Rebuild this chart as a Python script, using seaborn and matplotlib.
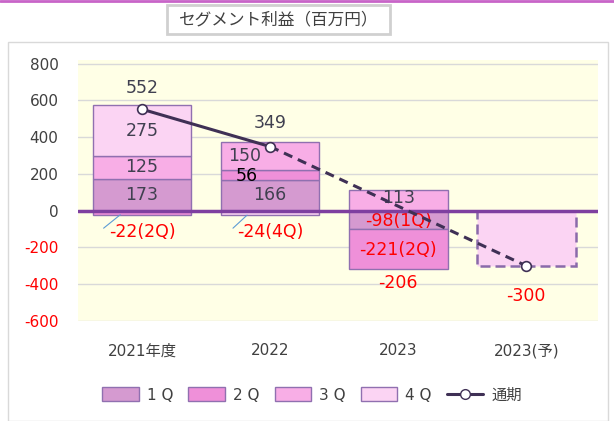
import numpy as np
import pandas as pd
import seaborn as sns
import matplotlib.pyplot as plt
from matplotlib.patches import Rectangle, Patch
from matplotlib.lines import Line2D

sns.set_style('white')
plt.rcParams['font.family'] = ['DejaVu Sans', 'Noto Sans CJK JP']
plt.rcParams['axes.unicode_minus'] = False

# data
years = ['2021年度', '2022', '2023', '2023(予)']
quarters = ['1 Q', '2 Q', '3 Q', '4 Q']
q1 = [173, 166, -98, np.nan]
q2 = [-22, 56, -221, np.nan]
q3 = [125, 150, 113, np.nan]
q4 = [275, -24, np.nan, -300]
total = [552, 349, -206, -300]
yticks = [-600, -400, -200, 0, 200, 400, 600, 800]

colors = ['#D59AD0', '#EF90D9', '#F8AEE6', '#FBD4F3']
edge = '#9070B0'
txt = '#404050'
red = '#FF0000'

fig = plt.figure(figsize=(6.14, 4.21), dpi=100)
W, H = 614, 421

# outer decorations (pixel based)
fig.add_artist(Line2D([0, 1], [1 - 1 / H, 1 - 1 / H], color='#C864C8', lw=2))
fig.add_artist(Rectangle((8 / W, 0), 600 / W, 1 - 42 / H, transform=fig.transFigure,
                         fill=False, ec='#D9D9D9', lw=1))
fig.add_artist(Rectangle((167 / W, 1 - 34 / H), 223 / W, 29 / H, transform=fig.transFigure,
                         fc='white', ec='#D0D0D0', lw=2))
fig.text(279 / W, 1 - 20 / H, 'セグメント利益（百万円）', ha='center', va='center',
         fontsize=12, color='#404040', family='Noto Sans CJK JP')

ax = fig.add_axes([78 / W, 1 - 321 / H, 520 / W, 261 / H])
ax.set_facecolor('#FFFFE6')

series = [q1, q2, q3, q4]
pos_base = np.zeros(len(years))
neg_base = np.zeros(len(years))
for vals, name, c in zip(series, quarters, colors):
    v = np.array(vals, dtype=float)
    keep = ~np.isnan(v)
    bottom = np.where(v >= 0, pos_base, neg_base)
    df = pd.DataFrame({'year': np.array(years)[keep], 'value': v[keep]})
    sns.barplot(data=df, x='year', y='value', order=years, color=c, width=0.77,
                edgecolor=edge, linewidth=1, bottom=bottom[keep], ax=ax, saturation=1)
    vv = np.nan_to_num(v)
    pos_base = pos_base + np.where(vv > 0, vv, 0)
    neg_base = neg_base + np.where(vv < 0, vv, 0)

# forecast bar dashed
fc_bar = ax.containers[-1][-1]
fc_bar.set_linestyle((0, (4, 2)))
fc_bar.set_linewidth(1.8)
fc_bar.set_edgecolor('#8A6AAA')

# annual line: solid actual, dashed toward forecast
xs = [0, 1, 3]
ts = [total[0], total[1], total[3]]
ax.plot(xs[:2], ts[:2], color='#3F3055', lw=2.2, zorder=5)
ax.plot(xs[1:], ts[1:], color='#3F3055', lw=2.2, ls=(0, (3, 2)), zorder=5)
ax.plot(xs, ts, 'o', mfc='white', mec='#3F3055', ms=7, mew=1.2, zorder=6)

ax.axhline(0, color='#7E3FA0', lw=2.5, zorder=4)

ax.set_ylim(-600, 820)
ax.set_xlim(-0.5, 3.56)
ax.set_yticks(yticks)
ax.yaxis.grid(True, color='#D9D9D9', lw=1)
ax.set_axisbelow(True)
for s in ax.spines.values():
    s.set_visible(False)
ax.tick_params(axis='both', length=0, labelsize=11, colors='#404040')
ax.tick_params(axis='y', pad=14)
ax.tick_params(axis='x', pad=16)
for lab, t in zip(ax.get_yticklabels(), yticks):
    lab.set_color(red if t < 0 else '#404040')
ax.set_xlabel('')
ax.set_ylabel('')

fs = 12.5
# 2021
ax.text(0, q1[0] / 2, '173', ha='center', va='center', fontsize=fs, color=txt)
ax.text(0, q1[0] + q3[0] / 2, '125', ha='center', va='center', fontsize=fs, color=txt)
ax.text(0, q1[0] + q3[0] + q4[0] / 2, '275', ha='center', va='center', fontsize=fs, color=txt)
ax.text(0, total[0] + 115, '552', ha='center', va='center', fontsize=fs, color=txt)
ax.text(0, -115, '-22(2Q)', ha='center', va='center', fontsize=fs, color=red)
ax.plot([-0.3, -0.17], [-95, -22], color='#5B9BD5', lw=0.8)
# 2022
ax.text(1, q1[1] / 2, '166', ha='center', va='center', fontsize=fs, color=txt)
ax.text(0.82, q1[1] + q2[1] / 2 - 5, '56', ha='center', va='center', fontsize=fs, color='black')
ax.text(0.8, q1[1] + q2[1] + q3[1] / 2, '150', ha='center', va='center', fontsize=fs, color=txt)
ax.text(1, total[1] + 130, '349', ha='center', va='center', fontsize=fs, color=txt)
ax.text(1, -115, '-24(4Q)', ha='center', va='center', fontsize=fs, color=red)
ax.plot([0.71, 0.82], [-95, -24], color='#5B9BD5', lw=0.8)
# 2023
ax.text(2, q3[2] / 2 + 10, '113', ha='center', va='center', fontsize=fs, color=txt)
ax.text(2, q1[2] / 2 - 5, '-98(1Q)', ha='center', va='center', fontsize=fs, color=red)
ax.text(2, q1[2] + q2[2] / 2 - 5, '-221(2Q)', ha='center', va='center', fontsize=fs, color=red)
ax.text(2, total[2] - 185, '-206', ha='center', va='center', fontsize=fs, color=red)
# forecast
ax.text(3, total[3] - 165, '-300', ha='center', va='center', fontsize=fs, color=red)

handles = [Patch(fc=c, ec=edge, lw=1) for c in colors]
handles.append(Line2D([], [], color='#3F3055', lw=2.2, marker='o', mfc='white',
                      mec='#3F3055', ms=7))
fig.legend(handles, quarters + ['通期'], loc='center', bbox_to_anchor=(312 / W, 1 - 395 / H),
           ncol=5, frameon=False, fontsize=11, handlelength=2.4, handleheight=1.0,
           columnspacing=1.0, handletextpad=0.5, labelcolor='#404040')

fig.savefig('out.png', dpi=100)
